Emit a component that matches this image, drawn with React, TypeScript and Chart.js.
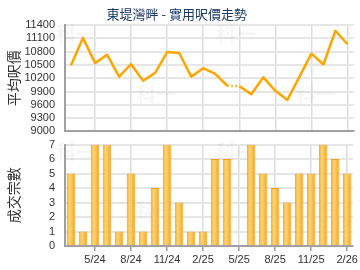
import React, { useEffect, useRef } from "react";
import { Chart, registerables } from "chart.js";

Chart.register(...registerables);

const months = [
  "3/24", "4/24", "5/24", "6/24", "7/24", "8/24", "9/24", "10/24", "11/24", "12/24", "1/25", "2/25",
  "3/25", "4/25", "5/25", "6/25", "7/25", "8/25", "9/25", "10/25", "11/25", "12/25", "1/26", "2/26",
];
const pricePerSqft = [
  10490, 11110, 10540, 10730, 10235, 10517, 10144, 10319, 10791, 10768, 10235, 10425,
  10296, 10030, 10020, 9840, 10220, 9915, 9710, 10230, 10753, 10509, 11270, 10966,
];
const transactions = [5, 1, 7, 7, 1, 5, 1, 4, 7, 3, 1, 1, 6, 6, 0, 7, 5, 4, 3, 5, 5, 7, 6, 5];
const estimatedSegmentStart = 13;

const chartTitle = "東堤灣畔 - 實用呎價走勢";
const priceAxisTitle = "平均呎價";
const countAxisTitle = "成交宗數";
const watermark = "科一";

const FONT = "'Liberation Sans', Arial, 'Noto Sans CJK TC', sans-serif";
const CJK = "'Noto Sans CJK TC', 'Liberation Sans', sans-serif";

const watermarkPlugin = (rows: number[]) => ({
  id: "wm",
  beforeDatasetsDraw(chart: any) {
    const c = chart.ctx;
    const a = chart.chartArea;
    c.save();
    c.fillStyle = "rgba(0,0,0,0.035)";
    c.font = `bold 20px ${CJK}`;
    c.textAlign = "center";
    c.textBaseline = "middle";
    const cols = [a.left + 11, a.left + 91, a.left + 171, a.left + 251];
    c.fillText(watermark, cols[0], a.top + rows[0]);
    c.fillText(watermark, cols[2], a.top + rows[0]);
    c.fillText(watermark, cols[1], a.top + rows[1]);
    c.fillText(watermark, cols[3], a.top + rows[1]);
    c.restore();
  },
});

const gridColor = (ctx: any) => (ctx.index % 3 === 2 ? "#dcdcdc" : "rgba(0,0,0,0)");
const tickMarkColor = (ctx: any) => (ctx.index % 3 === 2 ? "#999999" : "rgba(0,0,0,0)");

function yAxisFit(scale: any) {
  scale.width = 65;
}

const yGrid = { color: "#e6e6e6", lineWidth: 2, drawTicks: true, tickLength: 10, tickColor: "rgba(0,0,0,0)" };

export default function App() {
  const topRef = useRef<HTMLCanvasElement>(null);
  const botRef = useRef<HTMLCanvasElement>(null);

  useEffect(() => {
    const top = new Chart(topRef.current!, {
      type: "line",
      data: {
        labels: months,
        datasets: [
          {
            data: pricePerSqft,
            borderColor: "#ffa500",
            borderWidth: 2.5,
            pointRadius: 0,
            tension: 0,
            fill: false,
            borderJoinStyle: "round",
            segment: {
              borderDash: (ctx: any) => (ctx.p0DataIndex === estimatedSegmentStart ? [1.5, 2.5] : undefined),
            },
          },
        ],
      },
      options: {
        animation: false,
        responsive: false,
        layout: { padding: { top: 0, bottom: 0, left: 0, right: 6.5 } },
        plugins: {
          legend: { display: false },
          tooltip: { enabled: false },
          title: {
            display: true,
            text: chartTitle,
            color: "#1b3a66",
            font: { family: CJK, size: 13, weight: "normal" },
            padding: { top: 6, bottom: 3.4 },
          },
        },
        scales: {
          x: {
            type: "category",
            offset: true,
            grid: { offset: false, color: gridColor, lineWidth: 1.5, drawTicks: false },
            border: { color: "#a0a0a0", width: 2 },
            ticks: { display: false, autoSkip: false },
          },
          y: {
            min: 9000,
            max: 11400,
            afterFit: yAxisFit,
            ticks: {
              stepSize: 300,
              autoSkip: false,
              padding: 0,
              color: "#333",
              font: { family: FONT, size: 11 },
              callback: (v: any) => String(v),
            },
            grid: yGrid,
            border: { color: "#a0a0a0", width: 2 },
            title: {
              display: true,
              text: priceAxisTitle,
              color: "#333",
              font: { family: CJK, size: 14 },
              padding: { top: 5, bottom: 0 },
            },
          },
        },
      },
      plugins: [watermarkPlugin([9, 69])],
    } as any);

    const bot = new Chart(botRef.current!, {
      type: "bar",
      data: {
        labels: months,
        datasets: [
          {
            data: transactions,
            categoryPercentage: 1,
            barPercentage: 0.72,
            borderColor: "#eea21a",
            borderWidth: 1,
            borderSkipped: "bottom",
            backgroundColor: (ctx: any) => {
              const chart = ctx.chart;
              const xs = chart.scales && chart.scales.x;
              if (!xs || ctx.dataIndex === undefined) return "#f7b53a";
              const cx = xs.getPixelForValue(ctx.dataIndex);
              if (!isFinite(cx)) return "#f7b53a";
              const w = 9;
              const g = chart.ctx.createLinearGradient(cx - w / 2, 0, cx + w / 2, 0);
              g.addColorStop(0, "#f0a417");
              g.addColorStop(0.35, "#fdd47c");
              g.addColorStop(0.7, "#f8ba40");
              g.addColorStop(1, "#eda112");
              return g;
            },
          },
        ],
      },
      options: {
        animation: false,
        responsive: false,
        layout: { padding: { top: 2.4, bottom: 1.8, left: 0, right: 6.5 } },
        plugins: { legend: { display: false }, tooltip: { enabled: false } },
        scales: {
          x: {
            type: "category",
            offset: true,
            grid: { offset: false, color: gridColor, tickColor: tickMarkColor, lineWidth: 1.5, tickLength: 5 },
            border: { color: "#a0a0a0", width: 2 },
            ticks: {
              autoSkip: false,
              maxRotation: 0,
              padding: 2,
              color: "#333",
              font: { family: FONT, size: 11 },
              callback: (_v: any, i: number) => (i % 3 === 2 ? months[i] : ""),
            },
          },
          y: {
            min: 0,
            max: 7,
            afterFit: yAxisFit,
            ticks: {
              stepSize: 1,
              autoSkip: false,
              padding: 0,
              color: "#333",
              font: { family: FONT, size: 11 },
              callback: (v: any) => String(v),
            },
            grid: yGrid,
            border: { color: "#a0a0a0", width: 2 },
            title: {
              display: true,
              text: countAxisTitle,
              color: "#333",
              font: { family: CJK, size: 14 },
              padding: { top: 5, bottom: 0 },
            },
          },
        },
      },
      plugins: [watermarkPlugin([8, 66])],
    } as any);

    return () => {
      top.destroy();
      bot.destroy();
    };
  }, []);

  return (
    <div style={{ position: "fixed", left: 0, top: 0, width: 360, height: 270, background: "#fff" }}>
      <canvas ref={topRef} width={360} height={138} style={{ display: "block", width: 360, height: 138 }} />
      <canvas ref={botRef} width={360} height={132} style={{ display: "block", width: 360, height: 132 }} />
    </div>
  );
}
